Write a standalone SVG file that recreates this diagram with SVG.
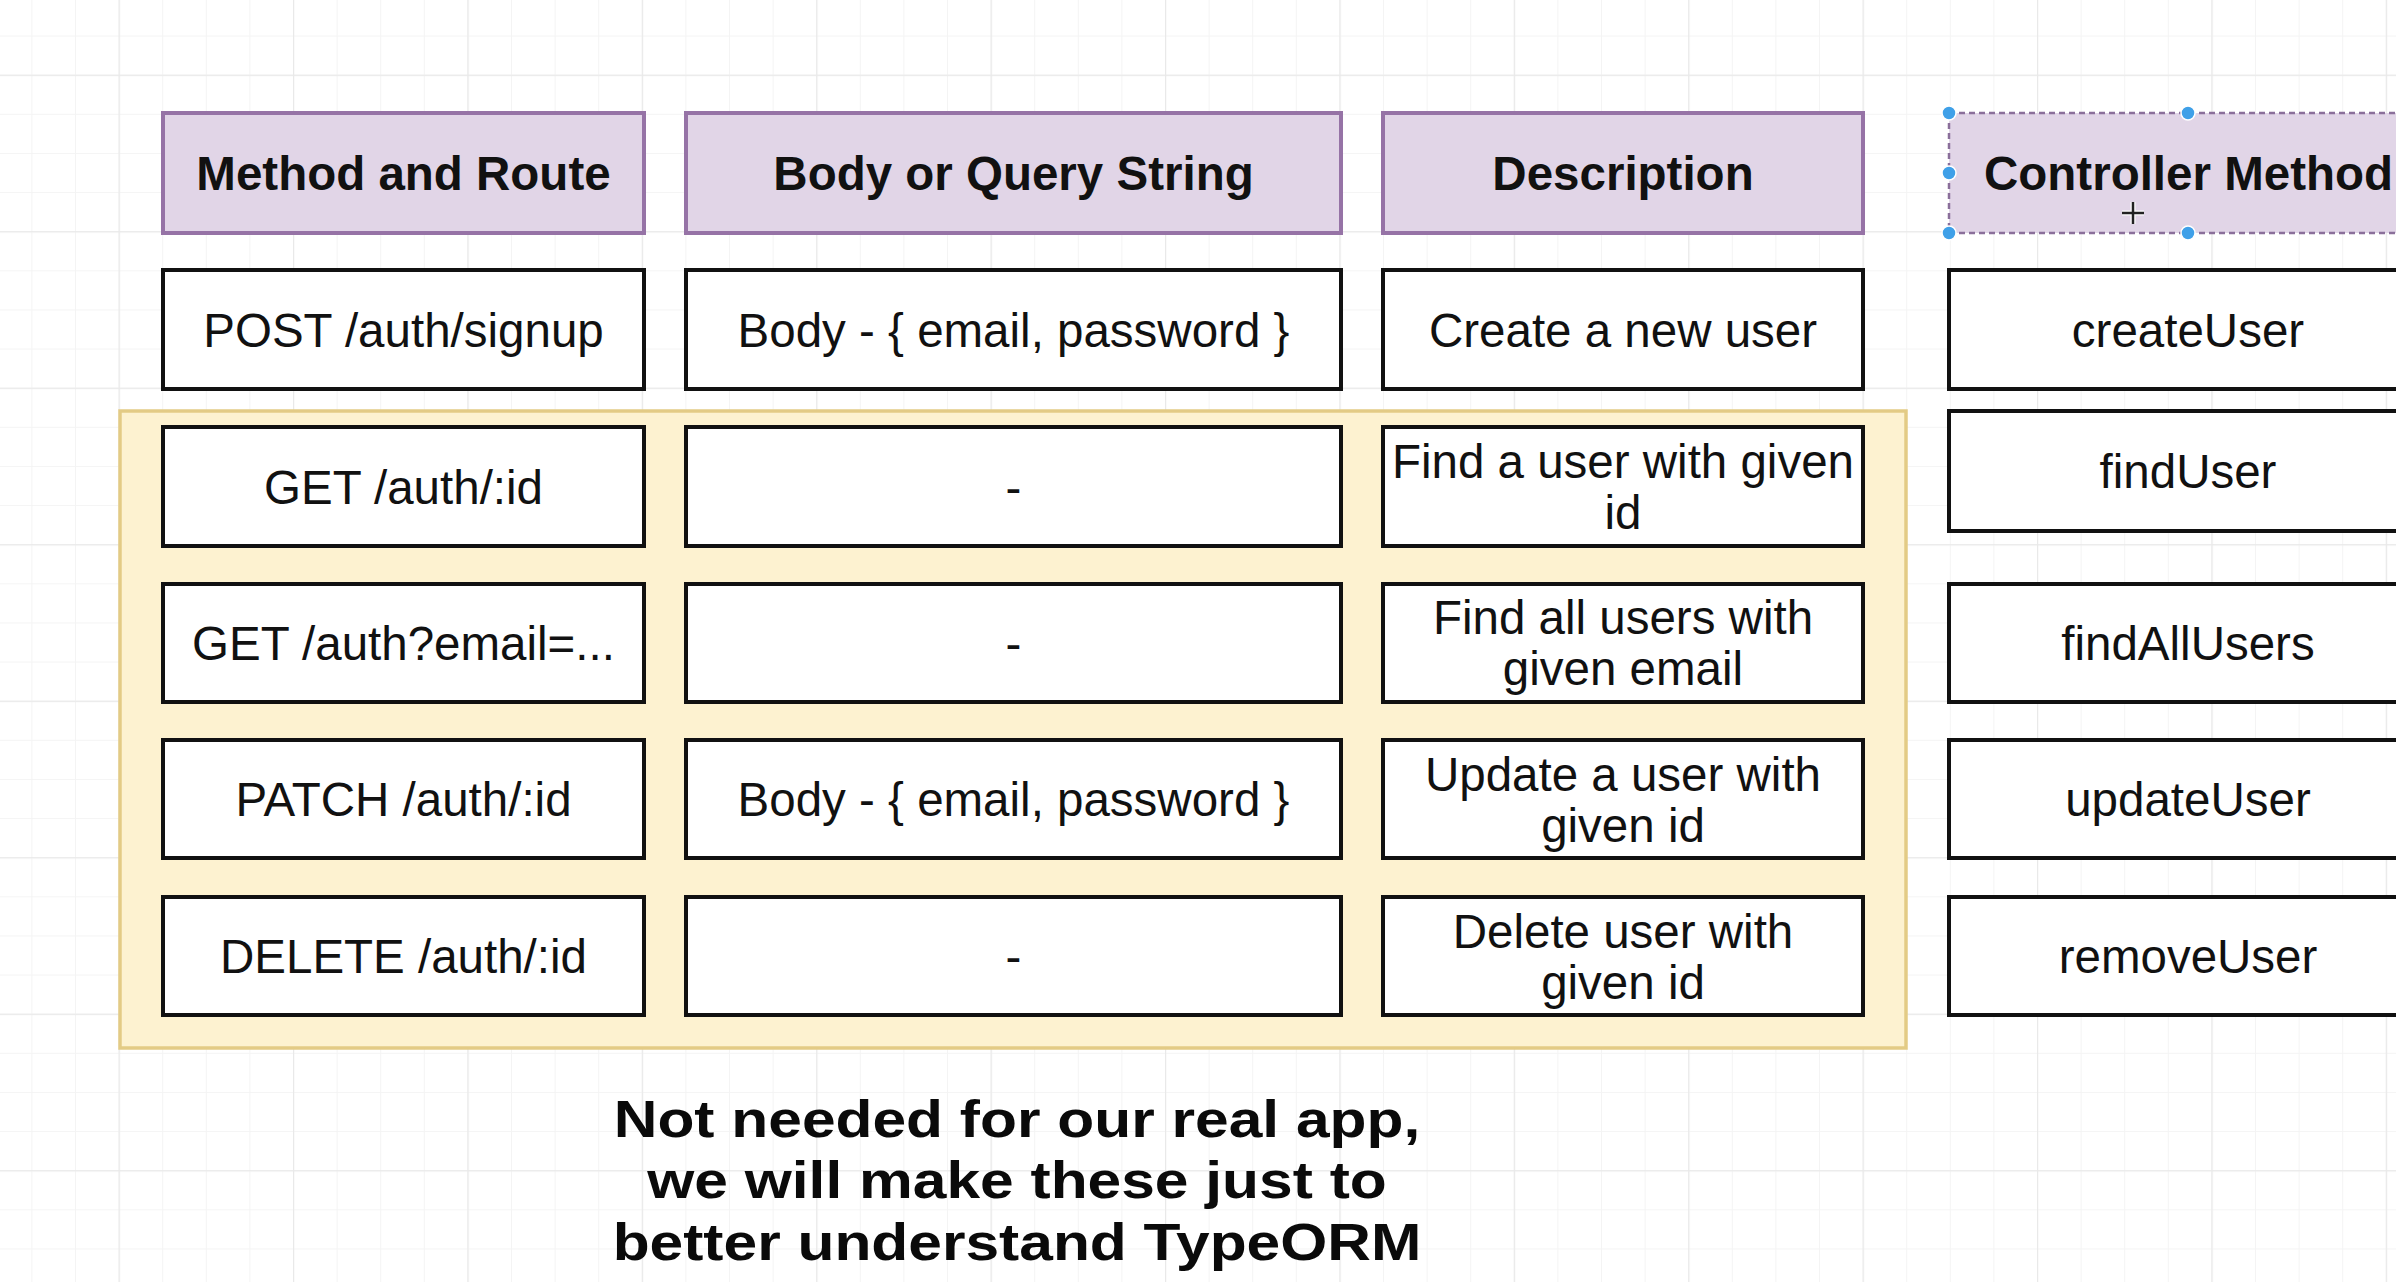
<svg xmlns="http://www.w3.org/2000/svg" width="2396" height="1282" viewBox="0 0 2396 1282">
<style>
  .hdr rect{fill:#e1d5e7;stroke:#9673a6;stroke-width:4}
  .cell rect{fill:#ffffff;stroke:#111111;stroke-width:4}
  .ht{font-family:"Liberation Sans",Arial,sans-serif;font-weight:bold;font-size:47.5px;fill:#111;text-anchor:middle}
  .ct{font-family:"Liberation Sans",Arial,sans-serif;font-size:47.5px;fill:#111;text-anchor:middle}
  .note{font-family:"Liberation Sans",Arial,sans-serif;font-weight:bold;font-size:60.5px;fill:#0a0a0a;text-anchor:middle}
  .handle{fill:#3fa0e8;stroke:#ffffff;stroke-width:1.5}
</style>
<defs>
  <pattern id="minor" patternUnits="userSpaceOnUse" x="118.6" y="74.7" width="43.6" height="39.125">
    <path d="M0 0V39.125M0 0H43.6" fill="none" stroke="#f4f4f4" stroke-width="2"/>
  </pattern>
  <pattern id="major" patternUnits="userSpaceOnUse" x="118.6" y="74.7" width="174.4" height="156.5">
    <path d="M0 0V156.5M0 0H174.4" fill="none" stroke="#e9e9e9" stroke-width="2.5"/>
  </pattern>
</defs>
<rect x="0" y="0" width="2396" height="1282" fill="#ffffff"/>
<rect x="0" y="0" width="2396" height="1282" fill="url(#minor)"/>
<rect x="0" y="0" width="2396" height="1282" fill="url(#major)"/>

<g id="container">
  <rect x="120" y="411" width="1786" height="637" fill="#fdf2d0" stroke="#e3cb85" stroke-width="3.5"/>
</g>

<g id="h-method" class="hdr"><rect x="163" y="113" width="481" height="120"/><text class="ht" x="403.5" y="190">Method and Route</text></g>
<g id="h-body" class="hdr"><rect x="686" y="113" width="655" height="120"/><text class="ht" x="1013.5" y="190">Body or Query String</text></g>
<g id="h-desc" class="hdr"><rect x="1383" y="113" width="480" height="120"/><text class="ht" x="1623" y="190">Description</text></g>
<g id="h-ctrl">
  <rect x="1949" y="113" width="478" height="120" fill="#e1d5e7" stroke="#8a6f9a" stroke-width="2.5" stroke-dasharray="6 4"/>
  <text class="ht" x="1984" y="190" style="text-anchor:start">Controller Method</text>
</g>

<g id="r1-method" class="cell"><rect x="163" y="270" width="481" height="119"/><text class="ct" x="403.5" y="347">POST /auth/signup</text></g>
<g id="r1-body" class="cell"><rect x="686" y="270" width="655" height="119"/><text class="ct" x="1013.5" y="347">Body - { email, password }</text></g>
<g id="r1-desc" class="cell"><rect x="1383" y="270" width="480" height="119"/><text class="ct" x="1623" y="347">Create a new user</text></g>
<g id="r1-ctrl" class="cell"><rect x="1949" y="270" width="478" height="119"/><text class="ct" x="2188" y="347">createUser</text></g>

<g id="r2-method" class="cell"><rect x="163" y="427" width="481" height="119"/><text class="ct" x="403.5" y="504">GET /auth/:id</text></g>
<g id="r2-body" class="cell"><rect x="686" y="427" width="655" height="119"/><text class="ct" x="1013.5" y="504">-</text></g>
<g id="r2-desc" class="cell"><rect x="1383" y="427" width="480" height="119"/><text class="ct" x="1623" y="478">Find a user with given</text><text class="ct" x="1623" y="529">id</text></g>
<g id="r2-ctrl" class="cell"><rect x="1949" y="411" width="478" height="120"/><text class="ct" x="2188" y="488">findUser</text></g>

<g id="r3-method" class="cell"><rect x="163" y="584" width="481" height="118"/><text class="ct" x="403.5" y="660">GET /auth?email=...</text></g>
<g id="r3-body" class="cell"><rect x="686" y="584" width="655" height="118"/><text class="ct" x="1013.5" y="660">-</text></g>
<g id="r3-desc" class="cell"><rect x="1383" y="584" width="480" height="118"/><text class="ct" x="1623" y="634">Find all users with</text><text class="ct" x="1623" y="685">given email</text></g>
<g id="r3-ctrl" class="cell"><rect x="1949" y="584" width="478" height="118"/><text class="ct" x="2188" y="660">findAllUsers</text></g>

<g id="r4-method" class="cell"><rect x="163" y="740" width="481" height="118"/><text class="ct" x="403.5" y="816">PATCH /auth/:id</text></g>
<g id="r4-body" class="cell"><rect x="686" y="740" width="655" height="118"/><text class="ct" x="1013.5" y="816">Body - { email, password }</text></g>
<g id="r4-desc" class="cell"><rect x="1383" y="740" width="480" height="118"/><text class="ct" x="1623" y="791">Update a user with</text><text class="ct" x="1623" y="842">given id</text></g>
<g id="r4-ctrl" class="cell"><rect x="1949" y="740" width="478" height="118"/><text class="ct" x="2188" y="816">updateUser</text></g>

<g id="r5-method" class="cell"><rect x="163" y="897" width="481" height="118"/><text class="ct" x="403.5" y="973">DELETE /auth/:id</text></g>
<g id="r5-body" class="cell"><rect x="686" y="897" width="655" height="118"/><text class="ct" x="1013.5" y="973">-</text></g>
<g id="r5-desc" class="cell"><rect x="1383" y="897" width="480" height="118"/><text class="ct" x="1623" y="948">Delete user with</text><text class="ct" x="1623" y="999">given id</text></g>
<g id="r5-ctrl" class="cell"><rect x="1949" y="897" width="478" height="118"/><text class="ct" x="2188" y="973">removeUser</text></g>

<g id="note">
  <text class="note" transform="translate(1017 1137) scale(1 0.86)">Not needed for our real app,</text>
  <text class="note" transform="translate(1017 1198) scale(1 0.86)">we will make these just to</text>
  <text class="note" transform="translate(1017 1260) scale(1 0.86)">better understand TypeORM</text>
</g>

<g id="selection">
  <circle class="handle" cx="1949" cy="113" r="7"/>
  <circle class="handle" cx="2188" cy="113" r="7"/>
  <circle class="handle" cx="1949" cy="173" r="7"/>
  <circle class="handle" cx="1949" cy="233" r="7"/>
  <circle class="handle" cx="2188" cy="233" r="7"/>
  <path d="M2133 202V224M2122 213H2144" stroke="#ffffff" stroke-width="5"/>
  <path d="M2133 202V224M2122 213H2144" stroke="#222" stroke-width="2.5"/>
</g>
</svg>
